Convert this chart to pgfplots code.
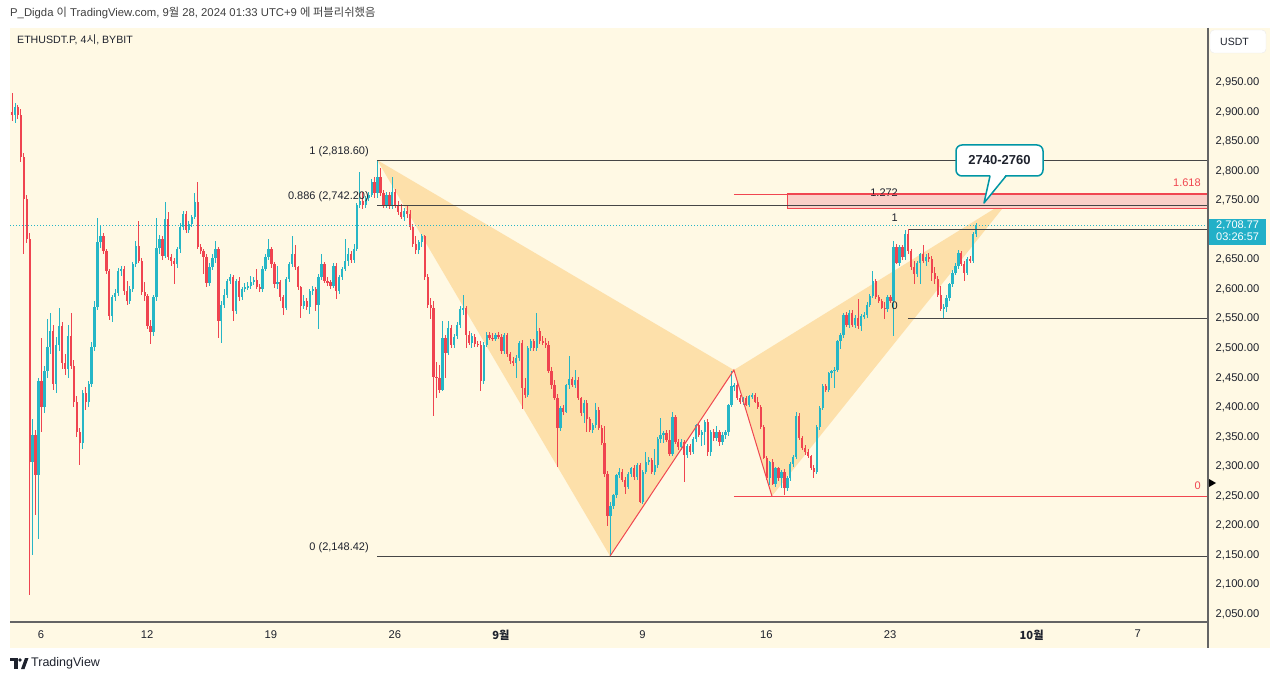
\documentclass[border=0pt]{standalone}
\usepackage{fontspec}
\setmainfont{Liberation Sans}
\newfontfamily\kr{Noto Sans CJK KR}
\usepackage{pgfplots}
\usepackage{pgfplotstable}
\pgfplotsset{compat=1.18}
\definecolor{panel}{RGB}{255,249,228}
\definecolor{upc}{RGB}{38,182,198}
\definecolor{dnc}{RGB}{239,68,80}
\definecolor{txt}{RGB}{30,34,45}
\definecolor{fibc}{RGB}{70,70,70}
\definecolor{harm}{RGB}{253,224,170}
\definecolor{redc}{RGB}{240,70,80}
\definecolor{pinkc}{RGB}{250,208,200}
\definecolor{sepc}{RGB}{100,100,100}
\definecolor{pbox}{RGB}{34,176,200}
\definecolor{callc}{RGB}{0,150,165}

\pgfplotstableread{
o h l c
2900 2932 2885 2895
2895 2915 2882 2908
2908 2912 2888 2895
2895 2905 2815 2823
2823 2830 2660 2753
2753 2760 2678 2685
2685 2695 2082 2308
2308 2381 2150 2354
2354 2362 2218 2286
2286 2450 2177 2444
2444 2517 2359 2400
2400 2470 2390 2461
2461 2550 2450 2503
2503 2560 2490 2530
2530 2540 2430 2440
2440 2520 2425 2505
2505 2568 2495 2537
2537 2545 2465 2475
2475 2490 2455 2465
2465 2540 2450 2520
2520 2560 2465 2470
2470 2480 2400 2410
2410 2420 2350 2359
2359 2365 2303 2339
2339 2430 2330 2424
2424 2435 2395 2410
2410 2445 2400 2440
2440 2510 2435 2503
2503 2580 2495 2570
2570 2721 2565 2680
2680 2708 2670 2690
2690 2695 2660 2665
2665 2668 2625 2631
2631 2635 2548 2555
2555 2590 2545 2586
2586 2600 2580 2594
2594 2636 2588 2631
2631 2640 2622 2634
2634 2640 2590 2597
2597 2614 2574 2580
2580 2606 2575 2600
2600 2646 2596 2642
2642 2682 2638 2673
2673 2716 2644 2648
2648 2652 2590 2595
2595 2612 2580 2588
2588 2592 2532 2538
2538 2548 2507 2527
2527 2590 2520 2586
2586 2721 2580 2670
2670 2692 2660 2685
2685 2690 2650 2657
2657 2747 2652 2719
2719 2730 2650 2655
2655 2660 2640 2648
2648 2652 2608 2642
2642 2672 2636 2668
2668 2712 2662 2705
2705 2733 2700 2728
2728 2733 2695 2700
2700 2716 2695 2710
2710 2726 2705 2722
2722 2762 2718 2747
2747 2781 2668 2672
2672 2676 2660 2665
2665 2668 2625 2655
2655 2660 2603 2611
2611 2645 2605 2638
2638 2660 2632 2652
2652 2682 2645 2668
2668 2672 2517 2546
2546 2580 2509 2574
2574 2600 2568 2590
2590 2618 2585 2614
2614 2625 2608 2620
2620 2624 2546 2563
2563 2618 2558 2614
2614 2620 2580 2586
2586 2604 2582 2600
2600 2610 2596 2603
2603 2612 2598 2605
2605 2622 2600 2612
2612 2620 2607 2615
2615 2634 2600 2603
2603 2608 2595 2600
2600 2640 2596 2635
2635 2660 2630 2655
2655 2685 2650 2668
2668 2672 2636 2642
2642 2646 2602 2608
2608 2640 2600 2612
2612 2616 2580 2586
2586 2590 2557 2569
2569 2620 2565 2617
2617 2646 2612 2642
2642 2690 2638 2659
2659 2675 2632 2637
2637 2640 2598 2603
2603 2606 2552 2572
2572 2590 2566 2580
2580 2585 2565 2570
2570 2600 2558 2597
2597 2606 2590 2600
2600 2604 2563 2574
2574 2625 2532 2620
2620 2660 2615 2642
2642 2646 2610 2614
2614 2620 2606 2612
2612 2616 2600 2606
2606 2645 2602 2640
2640 2644 2583 2597
2597 2624 2592 2620
2620 2638 2615 2634
2634 2685 2630 2648
2648 2670 2640 2660
2660 2665 2645 2650
2650 2676 2645 2668
2668 2746 2664 2742
2742 2798 2738 2750
2750 2765 2735 2742
2742 2758 2738 2755
2755 2764 2750 2760
2760 2787 2756 2782
2782 2790 2755 2762
2762 2818.6 2755 2790
2790 2805 2758 2762
2762 2768 2738 2742
2742 2764 2738 2760
2760 2764 2736 2740
2740 2790 2735 2765
2765 2770 2738 2742
2742 2750 2725 2730
2730 2744 2718 2722
2722 2738 2716 2733
2733 2740 2720 2728
2728 2734 2700 2705
2705 2710 2672 2677
2677 2690 2660 2666
2666 2684 2660 2680
2680 2694 2672 2690
2690 2692 2615 2620
2620 2625 2568 2574
2574 2585 2549 2568
2568 2580 2385 2452
2452 2476 2416 2450
2450 2472 2425 2430
2430 2546 2428 2518
2518 2522 2450 2492
2492 2546 2488 2535
2535 2540 2500 2506
2506 2524 2500 2520
2520 2544 2515 2540
2540 2572 2535 2566
2566 2591 2556 2568
2568 2572 2501 2523
2523 2530 2505 2509
2509 2526 2501 2520
2520 2524 2503 2508
2508 2512 2502 2506
2506 2512 2427 2444
2444 2510 2440 2506
2506 2527 2502 2523
2523 2528 2514 2518
2518 2526 2512 2516
2516 2526 2512 2523
2523 2528 2516 2520
2520 2524 2490 2495
2495 2526 2490 2522
2522 2526 2486 2490
2490 2494 2474 2478
2478 2486 2470 2475
2475 2488 2450 2484
2484 2512 2478 2509
2509 2514 2398 2433
2433 2450 2416 2421
2421 2504 2418 2500
2500 2516 2496 2512
2512 2516 2496 2500
2500 2560 2496 2529
2529 2535 2508 2512
2512 2520 2505 2509
2509 2518 2500 2506
2506 2512 2458 2461
2461 2468 2432 2438
2438 2446 2412 2416
2416 2422 2300 2365
2365 2402 2360 2399
2399 2404 2388 2393
2393 2440 2390 2438
2438 2487 2432 2448
2448 2452 2434 2438
2438 2464 2433 2447
2447 2452 2412 2416
2416 2418 2386 2390
2390 2412 2373 2408
2408 2412 2359 2380
2380 2384 2358 2362
2362 2374 2356 2370
2370 2407 2366 2396
2396 2400 2362 2365
2365 2370 2336 2339
2339 2368 2283 2288
2288 2292 2200 2217
2217 2240 2148.4 2234
2234 2254 2228 2251
2251 2288 2246 2285
2285 2297 2280 2291
2291 2296 2274 2277
2277 2282 2254 2266
2266 2290 2262 2288
2288 2300 2282 2297
2297 2302 2278 2282
2282 2306 2278 2302
2302 2306 2238 2240
2240 2294 2236 2291
2291 2325 2287 2308
2308 2316 2302 2311
2311 2315 2288 2291
2291 2330 2286 2302
2302 2350 2298 2347
2347 2382 2340 2353
2353 2360 2340 2356
2356 2362 2342 2345
2345 2362 2318 2322
2322 2393 2318 2384
2384 2388 2338 2342
2342 2346 2328 2333
2333 2346 2328 2342
2342 2345 2274 2319
2319 2338 2315 2334
2334 2338 2320 2325
2325 2350 2322 2347
2347 2372 2342 2370
2370 2374 2350 2353
2353 2362 2334 2358
2358 2378 2336 2376
2376 2380 2317 2325
2325 2362 2318 2359
2359 2364 2344 2348
2348 2368 2344 2359
2359 2362 2334 2342
2342 2358 2336 2353
2353 2362 2346 2358
2358 2406 2352 2404
2404 2461 2400 2436
2436 2442 2428 2438
2438 2442 2412 2416
2416 2421 2406 2410
2410 2418 2404 2416
2416 2419 2402 2404
2404 2421 2400 2419
2419 2425 2414 2421
2421 2424 2408 2410
2410 2418 2398 2401
2401 2404 2364 2367
2367 2370 2312 2314
2314 2318 2278 2280
2280 2310 2268 2308
2308 2312 2268 2271
2271 2300 2266 2297
2297 2300 2276 2280
2280 2294 2263 2291
2291 2295 2251 2263
2263 2284 2258 2280
2280 2308 2276 2305
2305 2320 2300 2316
2316 2393 2312 2385
2385 2390 2345 2348
2348 2352 2328 2331
2331 2336 2320 2325
2325 2330 2314 2317
2317 2320 2294 2297
2297 2302 2280 2291
2291 2370 2288 2367
2367 2402 2362 2399
2399 2440 2395 2436
2436 2440 2426 2430
2430 2460 2426 2458
2458 2464 2450 2461
2461 2468 2433 2464
2464 2514 2460 2512
2512 2526 2498 2523
2523 2560 2518 2557
2557 2562 2536 2540
2540 2565 2535 2560
2560 2564 2536 2540
2540 2556 2535 2552
2552 2583 2533 2537
2537 2558 2530 2554
2554 2562 2550 2557
2557 2578 2552 2574
2574 2592 2570 2589
2589 2631 2585 2614
2614 2617 2584 2586
2586 2590 2576 2580
2580 2584 2566 2569
2569 2578 2549 2566
2566 2590 2562 2586
2586 2590 2576 2580
2580 2682 2521 2671
2671 2676 2642 2645
2645 2675 2640 2671
2671 2675 2650 2654
2654 2700 2650 2693
2693 2696 2660 2665
2665 2668 2632 2637
2637 2648 2608 2625
2625 2648 2620 2645
2645 2662 2608 2659
2659 2674 2644 2648
2648 2660 2640 2654
2654 2662 2646 2651
2651 2656 2614 2628
2628 2637 2608 2617
2617 2622 2586 2591
2591 2606 2563 2566
2566 2575 2552 2570
2570 2590 2562 2585
2585 2610 2580 2608
2608 2632 2604 2628
2628 2644 2624 2640
2640 2666 2634 2662
2662 2665 2640 2642
2642 2648 2614 2628
2628 2654 2624 2651
2651 2656 2644 2648
2648 2696 2644 2693
2693 2712 2688 2708.77
}\candles

\pgfplotsset{
  candle/.style 2 args={draw=none, mark=none, forget plot,
    restrict y to domain=1000:5000,
    error bars/.cd, y dir=both, y explicit, error mark=none,
    error bar style={line width=#1, draw=#2, solid}},
}

\begin{document}
\begin{tikzpicture}
\begin{scope}[x=1pt,y=1pt]
\fill[white] (0,0) rectangle (1280,681);
\fill[panel] (10,33) rectangle (1270,653);
\end{scope}
\useasboundingbox (0,0) rectangle (1280pt,681pt);
\begin{axis}[
  at={(10pt,59pt)}, anchor=south west, scale only axis,
  width=1198pt, height=594pt,
  xmin=4.2476, xmax=71.97, ymin=2036.9, ymax=3042.0,
  axis line style={draw=none},
  axis x line*=bottom, axis y line*=right,
  tick style={draw=none}, major tick length=0pt,
  xtick={6,12,19,26,32,40,47,54,62,68},
  xticklabels={6,12,19,26,{\kr\bfseries 9월},9,16,23,{\kr\bfseries 10월},7},
  ytick={2050,2100,2150,2200,2250,2300,2350,2400,2450,2500,2550,2600,2650,2750,2800,2850,2900,2950},
  yticklabels={{2,050.00},{2,100.00},{2,150.00},{2,200.00},{2,250.00},{2,300.00},{2,350.00},{2,400.00},{2,450.00},{2,500.00},{2,550.00},{2,600.00},{2,650.00},{2,750.00},{2,800.00},{2,850.00},{2,900.00},{2,950.00}},
  tick label style={font=\fontsize{11.2}{13}\selectfont, text=txt},
  xticklabel style={anchor=north, inner sep=0pt, yshift=-8pt},
  yticklabel style={anchor=west, inner sep=0pt, xshift=7.5pt},
]
% harmonic pattern fill
\fill[harm] (axis cs:25.0,2818.6) -- (axis cs:38.17,2148.42) -- (axis cs:45.17,2463.3) -- cycle;
\fill[harm] (axis cs:45.17,2463.3) -- (axis cs:47.32,2250) -- (axis cs:60.78,2752.6) -- cycle;
% pink target zone
\filldraw[fill=pinkc, draw=redc, line width=0.8pt] (axis cs:48.17,2737) rectangle (axis cs:71.97,2762);
% candles: wicks and bodies
\addplot[candle={0.9pt}{upc}]
  table[x expr={4.361+\coordindex/6},
        y expr={(\thisrow{c}>=\thisrow{o}) ? (\thisrow{h}+\thisrow{l})/2 : -9999},
        y error expr={(\thisrow{h}-\thisrow{l})/2}] {\candles};
\addplot[candle={0.9pt}{dnc}]
  table[x expr={4.361+\coordindex/6},
        y expr={(\thisrow{c}<\thisrow{o}) ? (\thisrow{h}+\thisrow{l})/2 : -9999},
        y error expr={(\thisrow{h}-\thisrow{l})/2}] {\candles};
\addplot[candle={2.3pt}{upc}]
  table[x expr={4.361+\coordindex/6},
        y expr={(\thisrow{c}>=\thisrow{o}) ? (\thisrow{o}+\thisrow{c})/2 : -9999},
        y error expr={max(abs(\thisrow{c}-\thisrow{o})/2,0.8)}] {\candles};
\addplot[candle={2.3pt}{dnc}]
  table[x expr={4.361+\coordindex/6},
        y expr={(\thisrow{c}<\thisrow{o}) ? (\thisrow{o}+\thisrow{c})/2 : -9999},
        y error expr={max(abs(\thisrow{c}-\thisrow{o})/2,0.8)}] {\candles};
% current price dotted line
\draw[upc, line width=0.8pt, dash pattern=on 1pt off 2pt] (axis cs:4.2476,2708.77) -- (axis cs:71.97,2708.77);
% left fib
\draw[fibc, line width=0.9pt] (axis cs:25.0,2818.6) -- (axis cs:71.97,2818.6);
\draw[fibc, line width=0.9pt] (axis cs:25.0,2742.2) -- (axis cs:71.97,2742.2);
\draw[fibc, line width=0.9pt] (axis cs:25.0,2148.42) -- (axis cs:71.97,2148.42);
\begin{scope}[every node/.style={font=\fontsize{11}{13}\selectfont, text=txt, inner sep=0pt, anchor=base east}]
\node[yshift=6pt] at (axis cs:24.54,2818.6) {1 (2,818.60)};
\node[yshift=6pt] at (axis cs:24.54,2742.2) {0.886 (2,742.20)};
\node[yshift=6pt] at (axis cs:24.54,2148.42) {0 (2,148.42)};
\node[yshift=9pt] at (axis cs:54.45,2742.2) {1.272};
\node[yshift=7pt] at (axis cs:54.45,2701.9) {1};
\node[yshift=8pt] at (axis cs:54.45,2551.3) {0};
\node[yshift=8pt, text=redc] at (axis cs:71.57,2761) {1.618};
\node[yshift=7pt, text=redc] at (axis cs:71.57,2250) {0};
\end{scope}
% small fib
\draw[fibc, line width=1.2pt] (axis cs:55.01,2742.2) -- (axis cs:71.97,2742.2);
\draw[fibc, line width=0.9pt] (axis cs:55.01,2701.9) -- (axis cs:71.97,2701.9);
\draw[fibc, line width=0.9pt] (axis cs:55.01,2551.3) -- (axis cs:71.97,2551.3);
\draw[redc, line width=0.8pt] (axis cs:55.01,2701.9) -- (axis cs:55.01,2676);
% red fib
\draw[redc, line width=0.8pt] (axis cs:45.17,2761) -- (axis cs:71.97,2761);
\draw[redc, line width=0.8pt] (axis cs:45.17,2250) -- (axis cs:71.97,2250);
% harmonic legs
\draw[redc, line width=1pt] (axis cs:38.17,2148.42) -- (axis cs:45.17,2463.3) -- (axis cs:47.32,2250);
\end{axis}
\begin{scope}[x=1pt,y=1pt]
% separators
\draw[sepc, line width=1.2pt] (1208,653) -- (1208,33);
\draw[sepc, line width=1.2pt] (10,59) -- (1208,59);
% marker on price scale
\fill[black] (1209,202) -- (1216,198) -- (1209,194) -- cycle;
% current price box
\fill[pbox] (1208.6,462) rectangle (1266,436);
\node[anchor=west, inner sep=0pt, text=white, font=\fontsize{11}{13}\selectfont] at (1216,456) {2,708.77};
\node[anchor=west, inner sep=0pt, text=white, font=\fontsize{11}{13}\selectfont] at (1216,444) {03:26:57};
% USDT box
\filldraw[fill=white, draw=black!8, rounded corners=4pt] (1210,651) rectangle (1266,628);
\node[anchor=west, inner sep=0pt, text=txt, font=\fontsize{10.5}{12}\selectfont] at (1220,639) {USDT};
% header
\node[anchor=west, inner sep=0pt, text=black!75, font=\fontsize{11.3}{14}\selectfont] at (10,667.5) {P\_Digda {\kr 이} TradingView.com, 9{\kr 월} 28, 2024 01:33 UTC+9 {\kr 에 퍼블리쉬했음}};
\node[anchor=west, inner sep=0pt, text=txt, font=\fontsize{10.6}{13}\selectfont] at (17,641) {ETHUSDT.P, 4{\kr 시}, BYBIT};
% callout
\filldraw[fill=white, draw=callc, line width=1.5pt, rounded corners=6pt] (956,536) rectangle (1043,505);
\fill[white] (990.5,506.2) -- (1005.5,506.2) -- (984,478) -- cycle;
\draw[callc, line width=1.5pt, line join=round] (990,505) -- (984,478) -- (1006,505);
\node[inner sep=0pt, text=txt, font=\bfseries\fontsize{13}{15}\selectfont] at (999.5,520.5) {2740-2760};
% footer logo
\fill[txt] (10,23) rectangle (17.5,20);
\fill[txt] (14,23) rectangle (17.5,12);
\fill[txt] (20,21) circle (1.9);
\fill[txt] (21,12) -- (25,23) -- (28.5,23) -- (24.5,12) -- cycle;
\node[anchor=west, inner sep=0pt, text=txt, font=\fontsize{12.5}{14}\selectfont] at (31,18) {TradingView};
\end{scope}
\end{tikzpicture}
\end{document}
